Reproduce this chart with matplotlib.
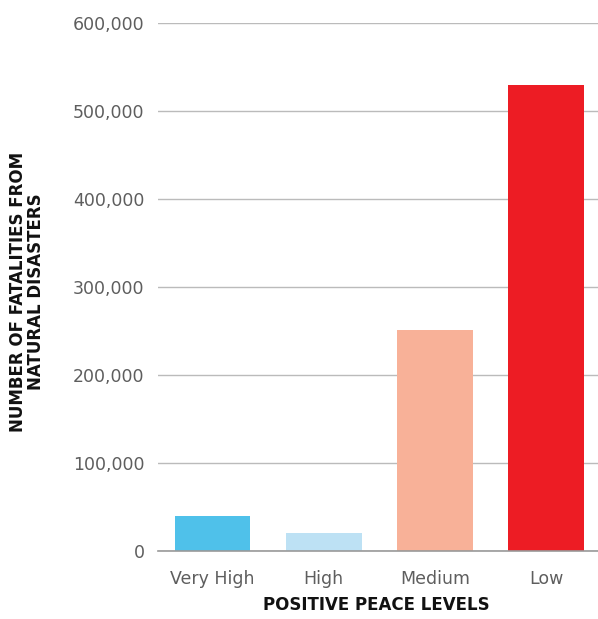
import matplotlib
matplotlib.use("Agg")
import matplotlib.pyplot as plt
from matplotlib.ticker import FuncFormatter

categories = ["Very High", "High", "Medium", "Low"]
fatalities = [40000, 20500, 251000, 530000]
colors = ["#4FC1EA", "#BDE1F4", "#F8B198", "#ED1C24"]
yticks = [0, 100000, 200000, 300000, 400000, 500000, 600000]

plt.rcParams['font.family'] = ['DejaVu Sans']

fig = plt.figure(figsize=(5.98, 6.19), dpi=100)
ax = fig.add_axes([0.265, 0.110, 0.735, 0.853])

x = range(len(categories))
ax.bar(x, fatalities, width=0.683, color=colors, zorder=3)

ax.set_xlim(-0.486, 3.468)
ax.set_ylim(0, 600000)
ax.set_yticks(yticks)
ax.yaxis.set_major_formatter(FuncFormatter(lambda v, p: f"{int(v):,}"))
ax.set_xticks(list(x))
ax.set_xticklabels(categories)

ax.grid(axis='y', color='#BBBBBB', linewidth=1.0, zorder=0)
for s in ['top', 'right', 'left']:
    ax.spines[s].set_visible(False)
ax.spines['bottom'].set_color('#999999')
ax.spines['bottom'].set_linewidth(1.2)
ax.spines['bottom'].set_zorder(4)

ax.tick_params(axis='y', length=0, pad=10, labelsize=12.5, labelcolor='#5E5E5E')
ax.tick_params(axis='x', length=0, pad=14, labelsize=12.5, labelcolor='#5E5E5E')

fig.text(0.045, 0.528, "NUMBER OF FATALITIES FROM\nNATURAL DISASTERS", rotation=90,
         ha='center', va='center', fontsize=12, fontweight='bold',
         linespacing=1.0, color='#111111')
fig.text(0.63, 0.008, "POSITIVE PEACE LEVELS", ha='center', va='bottom',
         fontsize=12, fontweight='bold', color='#111111')

fig.savefig("out.png", dpi=100)
